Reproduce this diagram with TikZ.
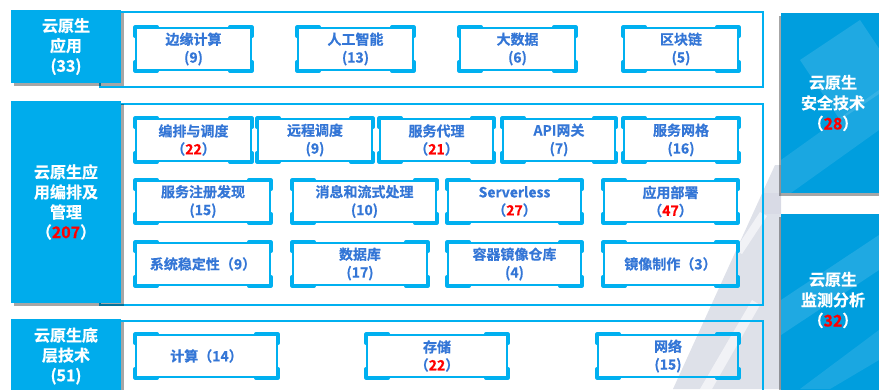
\documentclass[tikz,border=0pt]{standalone}
\usepackage{fontspec}
\newfontfamily\cnb{Noto Sans CJK SC Bold}[FakeBold=0.6]
\usetikzlibrary{shadows,calc}
\definecolor{frameblue}{RGB}{0,176,240}
\definecolor{labelblue}{RGB}{0,172,236}
\definecolor{sideblue}{RGB}{0,158,222}
\definecolor{textblue}{RGB}{52,118,214}
\definecolor{numred}{RGB}{255,0,0}
\definecolor{wmgray}{RGB}{214,217,228}
\newcommand\rn[1]{\textcolor{numred}{#1}}
\newcommand\ibox[6]{%
  \node[ibox, minimum width={#4pt-#2pt}, minimum height={#5pt-#3pt}] (#1) at ({(#2+#4)/2},{(#3+#5)/2}) {#6};
  \draw[corner] ([yshift=-9pt]#1.north west) -- (#1.north west) -- ([xshift=22pt]#1.north west);
  \draw[corner] ([yshift=-9pt]#1.north east) -- (#1.north east) -- ([xshift=-22pt]#1.north east);
  \draw[corner] ([yshift=9pt]#1.south west) -- (#1.south west) -- ([xshift=22pt]#1.south west);
  \draw[corner] ([yshift=9pt]#1.south east) -- (#1.south east) -- ([xshift=-22pt]#1.south east);
}
\tikzset{
  ibox/.style={draw=frameblue, line width=1.6pt, inner sep=0pt, align=center,
    text=textblue, font=\cnb\fontsize{14}{18}\selectfont},
  corner/.style={draw=frameblue, line width=3.6pt, line cap=round, line join=round},
  frame/.style={draw=frameblue, line width=2.8pt},
  lbox/.style={fill=labelblue, draw=none, text=white, align=center, inner sep=0pt,
    font=\cnb\fontsize{16}{20}\selectfont,
    drop shadow={shadow xshift=3pt, shadow yshift=-3pt, opacity=0.35, fill=black}},
  rbox/.style={fill=sideblue, draw=none, text=white, align=center, inner sep=0pt,
    font=\cnb\fontsize{16}{20.5}\selectfont,
    drop shadow={shadow xshift=-2pt, shadow yshift=-3pt, opacity=0.35, fill=black}},
  wm/.style={fill=wmgray, draw=none, opacity=0.8},
}
\begin{document}
\begin{tikzpicture}[x=1pt,y=-1pt]
\useasboundingbox (0,0) rectangle (879,389);
% watermark background
\fill[wm] (673,389) -- (775,165) -- (781,165) -- (781,389) -- cycle;
\fill[wm] (763,193) -- (781,193) -- (781,214) -- (763,214) -- cycle;
\fill[white, opacity=0.6] (700,389) -- (752,300) -- (760,305) -- (712,389) -- cycle;
\fill[white, opacity=0.6] (735,250) -- (760,212) -- (767,216) -- (742,254) -- cycle;
% frames
\draw[frame] (100,12) rectangle (763,87);
\draw[frame] (100,104) rectangle (763,305);
\draw[frame] (100,321) rectangle (763,400);
% left labels
\node[lbox, minimum width=110pt, minimum height=73pt] (L1) at (66,46.5) {云原生\\应用\\(33)};
\node[lbox, minimum width=110pt, minimum height=202pt] (L2) at (66,202) {云原生应\\用编排及\\管理\\（\textcolor{numred}{207}）};
\node[lbox, minimum width=110pt, minimum height=76pt, anchor=north] (L3) at (66,319) {};
\node[text=white, align=center, font=\cnb\fontsize{16}{20}\selectfont] (L3t) at (66,356) {云原生底\\层技术\\(51)};
% right side
\begin{scope}
\node[rbox, minimum width=110pt, minimum height=180pt, anchor=north west] (R1) at (781,13) {};
\node[rbox, minimum width=110pt, minimum height=190pt, anchor=north west] (R2) at (781,214) {};
\clip (781,13) rectangle (890,193) (781,214) rectangle (890,404);
\fill[white, opacity=0.12] (800,60) -- (860,20) -- (900,80) -- (840,120) -- cycle;
\fill[white, opacity=0.10] (781,160) -- (879,90) -- (879,130) -- (781,200) -- cycle;
\fill[white, opacity=0.12] (781,300) -- (879,235) -- (879,270) -- (781,335) -- cycle;
\fill[white, opacity=0.10] (800,389) -- (879,330) -- (879,360) -- (830,389) -- cycle;
\end{scope}
\node[text=white, align=center, font=\cnb\fontsize{16}{20.5}\selectfont] (R1t) at (833,103) {云原生\\安全技术\\（\textcolor{numred}{28}）};
\node[text=white, align=center, font=\cnb\fontsize{16}{20.5}\selectfont] (R2t) at (833,300) {云原生\\监测分析\\（\textcolor{numred}{32}）};
% row 1
\ibox{a1}{136}{28}{251}{70}{边缘计算\\(9)}
\ibox{a2}{298}{28}{413}{70}{人工智能\\(13)}
\ibox{a3}{460}{28}{575}{70}{大数据\\(6)}
\ibox{a4}{624}{28}{738}{70}{区块链\\(5)}
% row 2a
\ibox{b1}{136}{119}{251}{161}{编排与调度\\（\rn{22}）}
\ibox{b2}{258}{119}{372}{161}{远程调度\\(9)}
\ibox{b3}{380}{119}{493}{161}{服务代理\\（\rn{21}）}
\ibox{b4}{503}{119}{615}{161}{API网关\\(7)}
\ibox{b5}{624}{119}{738}{161}{服务网格\\(16)}
% row 2b
\ibox{c1}{136}{181}{270}{222}{服务注册发现\\(15)}
\ibox{c2}{293}{181}{436}{222}{消息和流式处理\\(10)}
\ibox{c3}{448}{181}{581}{222}{Serverless\\（\rn{27}）}
\ibox{c4}{604}{181}{737}{222}{应用部署\\（\rn{47}）}
% row 2c
\ibox{d1}{136}{243}{270}{285}{系统稳定性（9）}
\ibox{d2}{293}{243}{427}{285}{数据库\\(17)}
\ibox{d3}{448}{243}{581}{285}{容器镜像仓库\\(4)}
\ibox{d4}{604}{243}{737}{285}{镜像制作（3）}
% row 3
\ibox{e1}{136}{335}{277}{377}{计算（14）}
\ibox{e2}{367}{335}{507}{377}{存储\\（\rn{22}）}
\ibox{e3}{598}{335}{738}{377}{网络\\(15)}
\end{tikzpicture}
\end{document}
